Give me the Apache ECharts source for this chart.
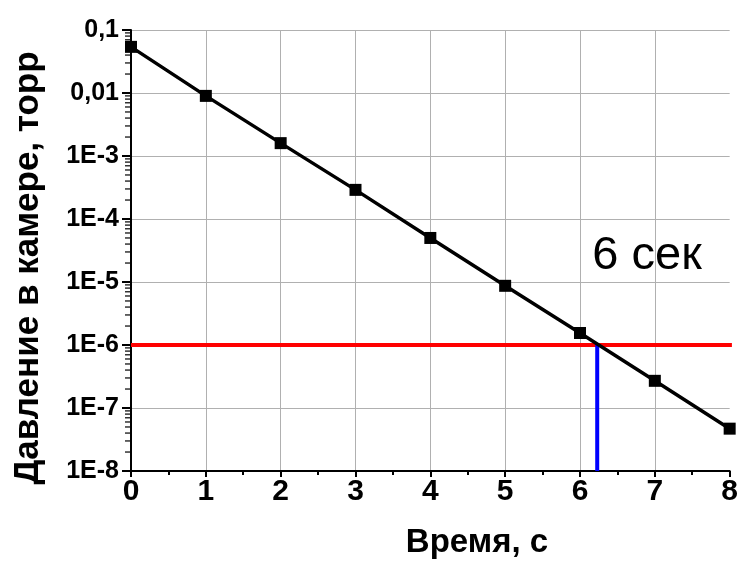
<!DOCTYPE html>
<html>
<head>
<meta charset="utf-8">
<title>Давление в камере</title>
<script src="https://cdn.jsdelivr.net/npm/echarts@6/dist/echarts.min.js"></script>
<style>
  html, body { margin: 0; padding: 0; background: #fff; }
  #chart { width: 741px; height: 564px; }
</style>
</head>
<body>
<div id="chart"></div>
<script>
// данные
var timeSec = [0, 1, 2, 3, 4, 5, 6, 7, 8];
var pressure = [0.054, 0.009, 0.0016, 2.9e-4, 5.0e-5, 8.7e-6, 1.55e-6, 2.7e-7, 4.7e-8];

// подписи оси Y (по показателю степени)
var yExponents = [-1, -2, -3, -4, -5, -6, -7, -8];
var yTickLabels = ['0,1', '0,01', '1E-3', '1E-4', '1E-5', '1E-6', '1E-7', '1E-8'];
var minorMantissa = [2, 3, 4, 5, 6, 7, 8, 9];

// красная линия - предел, синяя - время достижения
var limitX = [0, 8.03];
var limitY = [1e-6, 1e-6];
var crossX = [6.23, 6.23];
var crossY = [1e-8, 1e-6];

var FONT = 'Liberation Sans, Arial, sans-serif';

// мелкие деления лог. оси: 2..9 в каждой декаде
var minorTicks = [];
yExponents.forEach(function (e) {
    if (e === -1) return;
    minorMantissa.forEach(function (m) {
        minorTicks.push([0, m * Math.pow(10, e)]);
    });
});

function zip(xs, ys) {
    return xs.map(function (x, i) { return [x, ys[i]]; });
}

var chart = echarts.init(document.getElementById('chart'));

chart.setOption({
    animation: false,
    grid: { left: 131, right: 10, top: 30, bottom: 93 },
    xAxis: {
        type: 'value',
        min: 0,
        max: 8,
        interval: 1,
        axisLine: { lineStyle: { color: '#000', width: 2 } },
        axisTick: { length: 6, lineStyle: { color: '#000', width: 2 } },
        minorTick: { show: true, splitNumber: 2, length: 4, lineStyle: { color: '#000', width: 2 } },
        axisLabel: { color: '#000', fontFamily: FONT, fontWeight: 'bold', fontSize: 30, margin: 6 },
        splitLine: { show: true, showMaxLine: false, lineStyle: { color: '#b0b0b0', width: 1 } }
    },
    yAxis: {
        type: 'log',
        logBase: 10,
        min: 1e-8,
        max: 0.1,
        axisLine: { show: true, lineStyle: { color: '#000', width: 2 } },
        axisTick: { show: true, length: 9, lineStyle: { color: '#000', width: 2 } },
        axisLabel: {
            color: '#000', fontFamily: FONT, fontWeight: 'bold', fontSize: 25, margin: 12,
            formatter: function (v) {
                var e = Math.round(Math.log10(v));
                var i = yExponents.indexOf(e);
                return i >= 0 ? yTickLabels[i] : '';
            }
        },
        splitLine: { show: true, showMaxLine: false, lineStyle: { color: '#b0b0b0', width: 1 } }
    },
    graphic: [
        {
            type: 'text', x: 28, y: 268, rotation: Math.PI / 2,
            style: { text: 'Давление в камере, торр', fill: '#000', font: 'bold 35px ' + FONT, textAlign: 'center', textVerticalAlign: 'middle' }
        },
        {
            type: 'text', x: 477, y: 543,
            style: { text: 'Время, с', fill: '#000', font: 'bold 33px ' + FONT, textAlign: 'center', textVerticalAlign: 'middle' }
        },
        {
            type: 'text', x: 647, y: 256,
            style: { text: '6 сек', fill: '#000', font: '47px ' + FONT, textAlign: 'center', textVerticalAlign: 'middle' }
        }
    ],
    series: [
        {
            // мелкие деления оси Y
            type: 'scatter',
            silent: true,
            clip: false,
            data: minorTicks,
            symbol: 'rect',
            symbolSize: [6, 1.5],
            symbolOffset: [-3, 0],
            itemStyle: { color: '#000' },
            z: 10
        },
        {
            type: 'line',
            data: zip(limitX, limitY),
            clip: false,
            symbol: 'none',
            lineStyle: { color: '#ff0000', width: 4 },
            z: 3
        },
        {
            type: 'line',
            data: zip(crossX, crossY),
            symbol: 'none',
            lineStyle: { color: '#0000ff', width: 4 },
            z: 3
        },
        {
            type: 'line',
            data: zip(timeSec, pressure),
            symbol: 'rect',
            symbolSize: 12,
            itemStyle: { color: '#000' },
            lineStyle: { color: '#000', width: 3.5 },
            z: 4
        }
    ]
});
</script>
</body>
</html>
